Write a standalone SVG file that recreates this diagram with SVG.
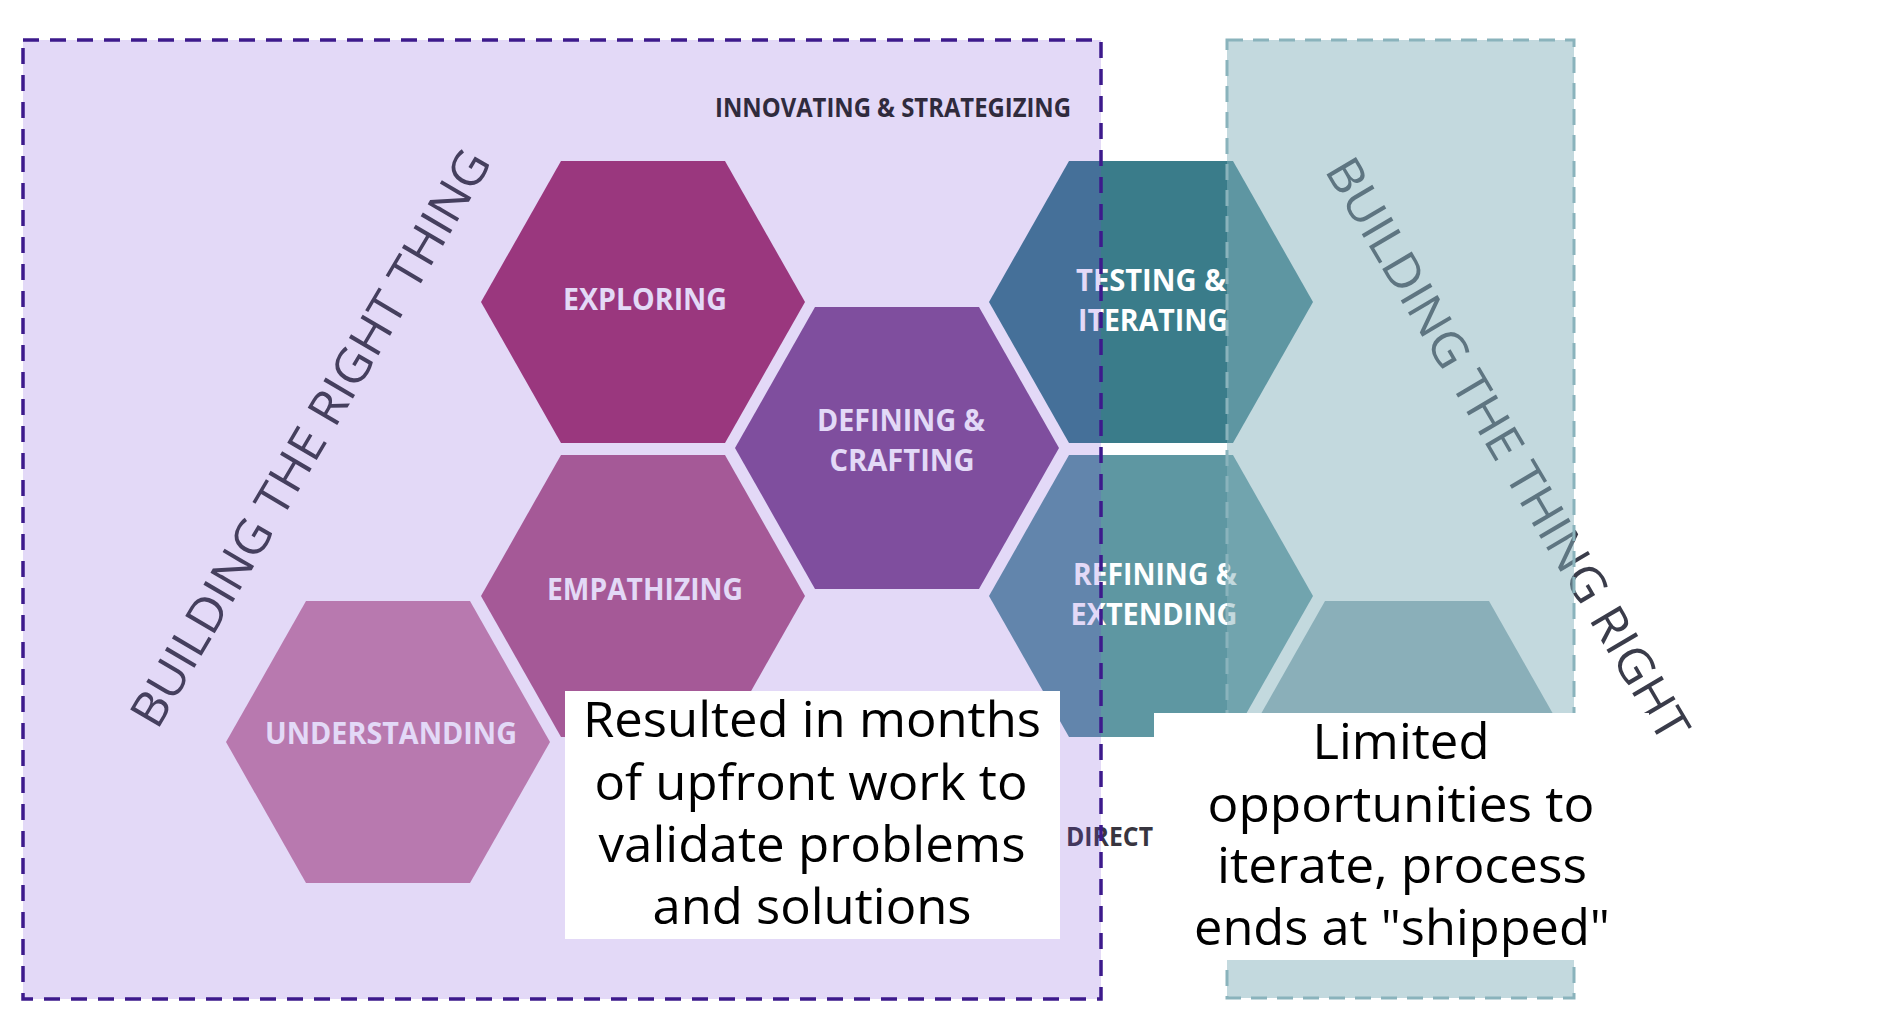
<svg xmlns="http://www.w3.org/2000/svg" width="1894" height="1026" viewBox="0 0 1894 1026">
<defs>
<style>
.hex-label{font-family:"Open Sans","Liberation Sans",sans-serif;font-weight:700;font-size:31px;fill:#ffffff;text-anchor:middle}
.cat{font-family:"Open Sans","Liberation Sans",sans-serif;font-weight:700;font-size:26px;text-anchor:start}
.side{font-family:"Open Sans","Liberation Sans",sans-serif;font-weight:500;font-size:48px;text-anchor:middle}
.note{font-family:"Open Sans","Liberation Sans",sans-serif;font-weight:400;font-size:49px;fill:#000000;text-anchor:middle}
.note-box{fill:#ffffff}
.zone-purple{fill:#7341d7;fill-opacity:0.2;stroke:#3d1a8c;stroke-width:3.5;stroke-dasharray:16 11}
.zone-teal{fill:#85b1bc;fill-opacity:0.49;stroke:#8ab3bc;stroke-width:3;stroke-dasharray:16 10}
</style>
</defs>
<rect x="0" y="0" width="1894" height="1026" fill="#ffffff"/>

<g id="base-diagram">
  <g id="hex-exploring">
    <polygon points="481,302 561,161 725,161 805,302 725,443 561,443" fill="#a43568"/>
    <text class="hex-label" x="645" y="310" textLength="164" lengthAdjust="spacingAndGlyphs">EXPLORING</text>
  </g>
  <g id="hex-defining">
    <polygon points="735,448 815,307 979,307 1059,448 979,589 815,589" fill="#825290"/>
    <text class="hex-label" x="901" y="431" textLength="168" lengthAdjust="spacingAndGlyphs">DEFINING &amp;</text>
    <text class="hex-label" x="902" y="471" textLength="145" lengthAdjust="spacingAndGlyphs">CRAFTING</text>
  </g>
  <g id="hex-empathizing">
    <polygon points="481,596 561,455 725,455 805,596 725,737 561,737" fill="#b26088"/>
    <text class="hex-label" x="645" y="600" textLength="196" lengthAdjust="spacingAndGlyphs">EMPATHIZING</text>
  </g>
  <g id="hex-understanding">
    <polygon points="226,742 306,601 470,601 550,742 470,883 306,883" fill="#ca88a5"/>
    <text class="hex-label" x="391" y="744" textLength="252" lengthAdjust="spacingAndGlyphs">UNDERSTANDING</text>
  </g>
  <g id="hex-testing">
    <polygon points="989,302 1069,161 1233,161 1313,302 1233,443 1069,443" fill="#3a7c8a"/>
    <text class="hex-label" x="1151" y="291" textLength="150" lengthAdjust="spacingAndGlyphs">TESTING &amp;</text>
    <text class="hex-label" x="1153" y="331" textLength="150" lengthAdjust="spacingAndGlyphs">ITERATING</text>
  </g>
  <g id="hex-refining">
    <polygon points="989,596 1069,455 1233,455 1313,596 1233,737 1069,737" fill="#5e97a2"/>
    <text class="hex-label" x="1155" y="585" textLength="164" lengthAdjust="spacingAndGlyphs">REFINING &amp;</text>
    <text class="hex-label" x="1154" y="625" textLength="167" lengthAdjust="spacingAndGlyphs">EXTENDING</text>
  </g>
  <g id="hex-lower-right">
    <polygon points="1245,742 1325,601 1489,601 1569,742 1489,883 1325,883" fill="#8fadb6"/>
  </g>
  <g id="label-innovating">
    <text class="cat" x="715" y="117" fill="#1e2616" textLength="356" lengthAdjust="spacingAndGlyphs">INNOVATING &amp; STRATEGIZING</text>
  </g>
  <g id="label-direct">
    <text class="cat" x="1066" y="846" fill="#38353f" textLength="87" lengthAdjust="spacingAndGlyphs">DIRECT</text>
  </g>
  <g id="label-building-right-thing">
    <text class="side" transform="translate(310,438) rotate(-59.5)" y="17" fill="#3a3f40" textLength="660" lengthAdjust="spacingAndGlyphs">BUILDING THE RIGHT THING</text>
  </g>
  <g id="label-building-thing-right">
    <text class="side" transform="translate(1508,449) rotate(59.5)" y="17" fill="#3a3c4a" textLength="667" lengthAdjust="spacingAndGlyphs">BUILDING THE THING RIGHT</text>
  </g>
</g>

<g id="zone-building-right-thing">
  <rect class="zone-purple" x="23" y="40" width="1078" height="959"/>
</g>
<g id="zone-building-thing-right">
  <rect class="zone-teal" x="1227" y="40" width="347" height="958"/>
</g>

<g id="note-upfront-work">
  <rect class="note-box" x="565" y="691" width="495" height="248"/>
  <text class="note" x="812" y="737" textLength="458" lengthAdjust="spacingAndGlyphs">Resulted in months</text>
  <text class="note" x="811" y="800" textLength="433" lengthAdjust="spacingAndGlyphs">of upfront work to</text>
  <text class="note" x="812" y="862" textLength="427" lengthAdjust="spacingAndGlyphs">validate problems</text>
  <text class="note" x="812" y="924" textLength="319" lengthAdjust="spacingAndGlyphs">and solutions</text>
</g>
<g id="note-limited-iteration">
  <rect class="note-box" x="1154" y="713" width="495" height="247"/>
  <text class="note" x="1401" y="759" textLength="177" lengthAdjust="spacingAndGlyphs">Limited</text>
  <text class="note" x="1401" y="822" textLength="387" lengthAdjust="spacingAndGlyphs">opportunities to</text>
  <text class="note" x="1402" y="883" textLength="370" lengthAdjust="spacingAndGlyphs">iterate, process</text>
  <text class="note" x="1402" y="945" textLength="416" lengthAdjust="spacingAndGlyphs">ends at "shipped"</text>
</g>

<g id="connectors"></g>
</svg>
